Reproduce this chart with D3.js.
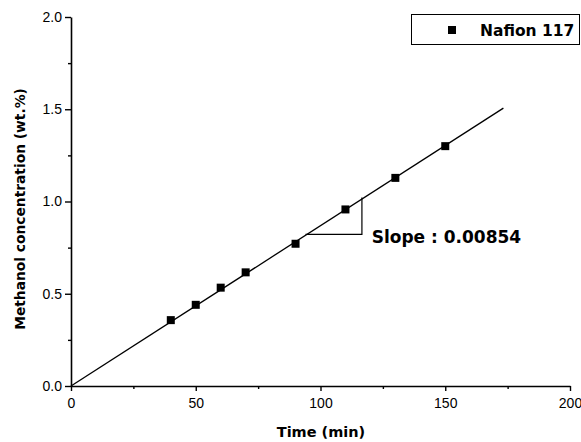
<!DOCTYPE html>
<html>
<head>
<meta charset="utf-8">
<script src="https://cdn.jsdelivr.net/npm/d3@7"></script>
<style>
  body { margin: 0; background: #fff; }
</style>
</head>
<body>
<div id="vis"></div>
<script>
/* data */
let timeMin = [40, 50, 60, 70, 90, 110, 130, 150];
let concentration = [0.357, 0.44, 0.533, 0.616, 0.771, 0.957, 1.128, 1.30];
let fitX = [0, 173.3];
let fitY = [0, 1.506];
let triX = [94, 116.6, 116.6];
let triY = [0.822, 0.822, 1.022];
let xTicks = [0, 50, 100, 150, 200];
let xMinor = [25, 75, 125, 175];
let yTicks = [0, 0.5, 1.0, 1.5, 2.0];
let yMinor = [0.25, 0.75, 1.25, 1.75];
let seriesName = "Nafion 117";
let slopeText = "Slope : 0.00854";

/* geometry */
let width = 581;
let height = 442;
let boundsX = [71, 570];
let boundsY = [17, 386];

/* scales */
let x = d3.scaleLinear().domain([0, 200]).range(boundsX);
let y = d3.scaleLinear().domain([0, 2]).range([boundsY[1], boundsY[0]]);

let tickFont = "'Liberation Sans', Arial, sans-serif";
let boldFont = "'DejaVu Sans', sans-serif";

let svg = d3.select("#vis").append("svg")
  .attr("width", width)
  .attr("height", height)
  .style("background-color", "#fff");

/* axes: major ticks with labels, minor ticks without */
let xAxis = svg.append("g")
  .attr("transform", "translate(0," + boundsY[1] + ")")
  .call(d3.axisBottom(x).tickValues(xTicks).tickSize(5).tickSizeOuter(0).tickPadding(7)
    .tickFormat(d3.format("d")));
svg.append("g")
  .attr("transform", "translate(0," + boundsY[1] + ")")
  .call(d3.axisBottom(x).tickValues(xMinor).tickSize(3).tickFormat(""))
  .call(g => g.select(".domain").remove());

let yAxis = svg.append("g")
  .attr("transform", "translate(" + boundsX[0] + ",0)")
  .call(d3.axisLeft(y).tickValues(yTicks).tickSize(6).tickSizeOuter(0).tickPadding(3)
    .tickFormat(d3.format(".1f")));
svg.append("g")
  .attr("transform", "translate(" + boundsX[0] + ",0)")
  .call(d3.axisLeft(y).tickValues(yMinor).tickSize(3).tickFormat(""))
  .call(g => g.select(".domain").remove());

svg.selectAll(".domain").attr("stroke", "#000").attr("stroke-width", 1.6);
svg.selectAll(".tick line").attr("stroke", "#000").attr("stroke-width", 1.4);
svg.selectAll(".tick text")
  .attr("fill", "#000")
  .attr("font-family", tickFont)
  .attr("font-size", 14);

/* axis titles */
svg.append("text")
  .attr("x", 321)
  .attr("y", 437)
  .attr("text-anchor", "middle")
  .attr("font-family", boldFont)
  .attr("font-weight", "bold")
  .attr("font-size", 14.5)
  .text("Time (min)");

svg.append("text")
  .attr("transform", "translate(25,209) rotate(-90)")
  .attr("text-anchor", "middle")
  .attr("font-family", boldFont)
  .attr("font-weight", "bold")
  .attr("font-size", 13.8)
  .text("Methanol concentration (wt.%)");

/* linear fit */
let line = d3.line().x(d => x(d[0])).y(d => y(d[1]));
svg.append("path")
  .attr("fill", "none")
  .attr("stroke", "#000")
  .attr("stroke-width", 1.3)
  .attr("d", line(d3.zip(fitX, fitY)));

/* slope triangle */
svg.append("path")
  .attr("fill", "none")
  .attr("stroke", "#000")
  .attr("stroke-width", 1.2)
  .attr("d", line(d3.zip(triX, triY)));

svg.append("text")
  .attr("x", x(120.5))
  .attr("y", y(0.775))
  .attr("font-family", boldFont)
  .attr("font-weight", "bold")
  .attr("font-size", 17)
  .text(slopeText);

/* data points */
let sq = 8;
svg.append("g").selectAll("rect")
  .data(d3.zip(timeMin, concentration))
  .join("rect")
    .attr("x", d => x(d[0]) - sq / 2)
    .attr("y", d => y(d[1]) - sq / 2)
    .attr("width", sq)
    .attr("height", sq)
    .attr("fill", "#000");

/* legend */
let lg = svg.append("g");
lg.append("rect")
  .attr("x", 411.5)
  .attr("y", 14.5)
  .attr("width", 168)
  .attr("height", 30)
  .attr("fill", "none")
  .attr("stroke", "#000")
  .attr("stroke-width", 1);
lg.append("rect")
  .attr("x", 452 - sq / 2)
  .attr("y", 30 - sq / 2)
  .attr("width", sq)
  .attr("height", sq)
  .attr("fill", "#000");
lg.append("text")
  .attr("x", 480)
  .attr("y", 36)
  .attr("font-family", boldFont)
  .attr("font-weight", "bold")
  .attr("font-size", 15.5)
  .text(seriesName);
</script>
</body>
</html>
